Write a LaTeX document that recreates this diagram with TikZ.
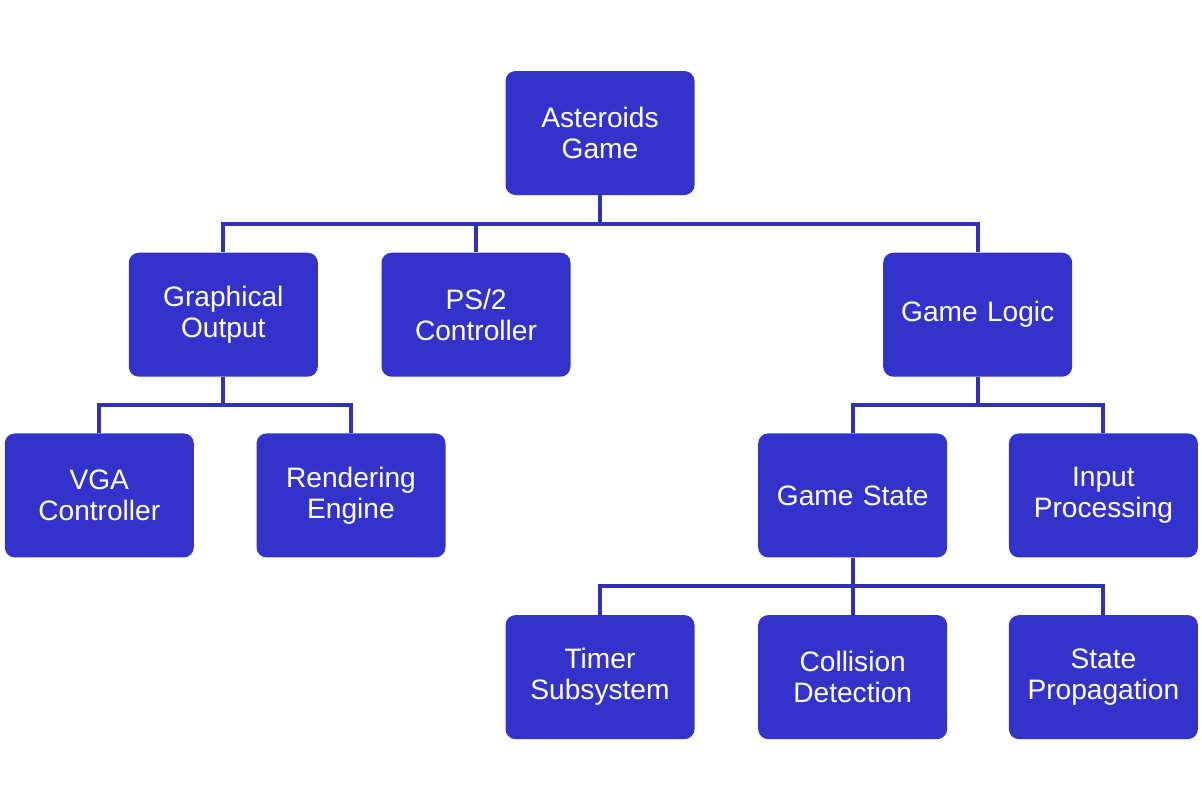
\documentclass[tikz,border=0pt]{standalone}
\usepackage{fontspec}
\setmainfont{Liberation Sans}
\usepackage{tikz}
\usetikzlibrary{positioning, calc}

\definecolor{boxblue}{HTML}{3333CC}
\definecolor{linkblue}{HTML}{3030B8}

\begin{document}
\begin{tikzpicture}[
    % Styles
    block/.style={rectangle, rounded corners=0.2cm, fill=boxblue, draw=none, text=white, minimum width=3.78cm, minimum height=2.48cm, inner sep=0pt, text width=3.6cm, align=center, font=\fontsize{16}{17.6}\selectfont},
    link/.style={draw=linkblue, line width=2.3pt}
]
\useasboundingbox (0,0) rectangle (24.04,-16.16);

% --- Root ---
\node[block] (game) at (12.0,-2.66) {Asteroids\\Game};

% --- First level ---
\node[block, below left = 1.14cm and 3.74cm of game] (graphics) {Graphical\\Output};
\node[block, right = 1.26cm of graphics] (ps2) {PS/2\\Controller};
\node[block, below right = 1.14cm and 3.76cm of game] (logic) {Game Logic};

\draw[link] (game.south) -- ++(0,-0.57) -| (graphics.north);
\draw[link] (game.south) -- ++(0,-0.57) -| (ps2.north);
\draw[link] (game.south) -- ++(0,-0.57) -| (logic.north);

% --- Graphics branch ---
\node[block, below = 1.12cm of graphics, xshift=-2.48cm] (vga) {VGA\\Controller};
\node[block, right = 1.24cm of vga] (render) {Rendering\\Engine};

\draw[link] (graphics.south) -- ++(0,-0.56) -| (vga.north);
\draw[link] (graphics.south) -- ++(0,-0.56) -| (render.north);

% --- Logic branch ---
\node[block, below = 1.12cm of logic, xshift=-2.5cm] (state) {Game State};
\node[block, right = 1.22cm of state] (input) {Input\\Processing};

\draw[link] (logic.south) -- ++(0,-0.56) -| (state.north);
\draw[link] (logic.south) -- ++(0,-0.56) -| (input.north);

% --- Game state branch ---
\node[block, below = 1.14cm of state] (collision) {Collision\\Detection};
\node[block, left = 1.26cm of collision] (timer) {Timer\\Subsystem};
\node[block, right = 1.22cm of collision] (propagation) {State\\Propagation};

\draw[link] (state.south) -- ++(0,-0.57) -| (timer.north);
\draw[link] (state.south) -- (collision.north);
\draw[link] (state.south) -- ++(0,-0.57) -| (propagation.north);

\end{tikzpicture}
\end{document}
